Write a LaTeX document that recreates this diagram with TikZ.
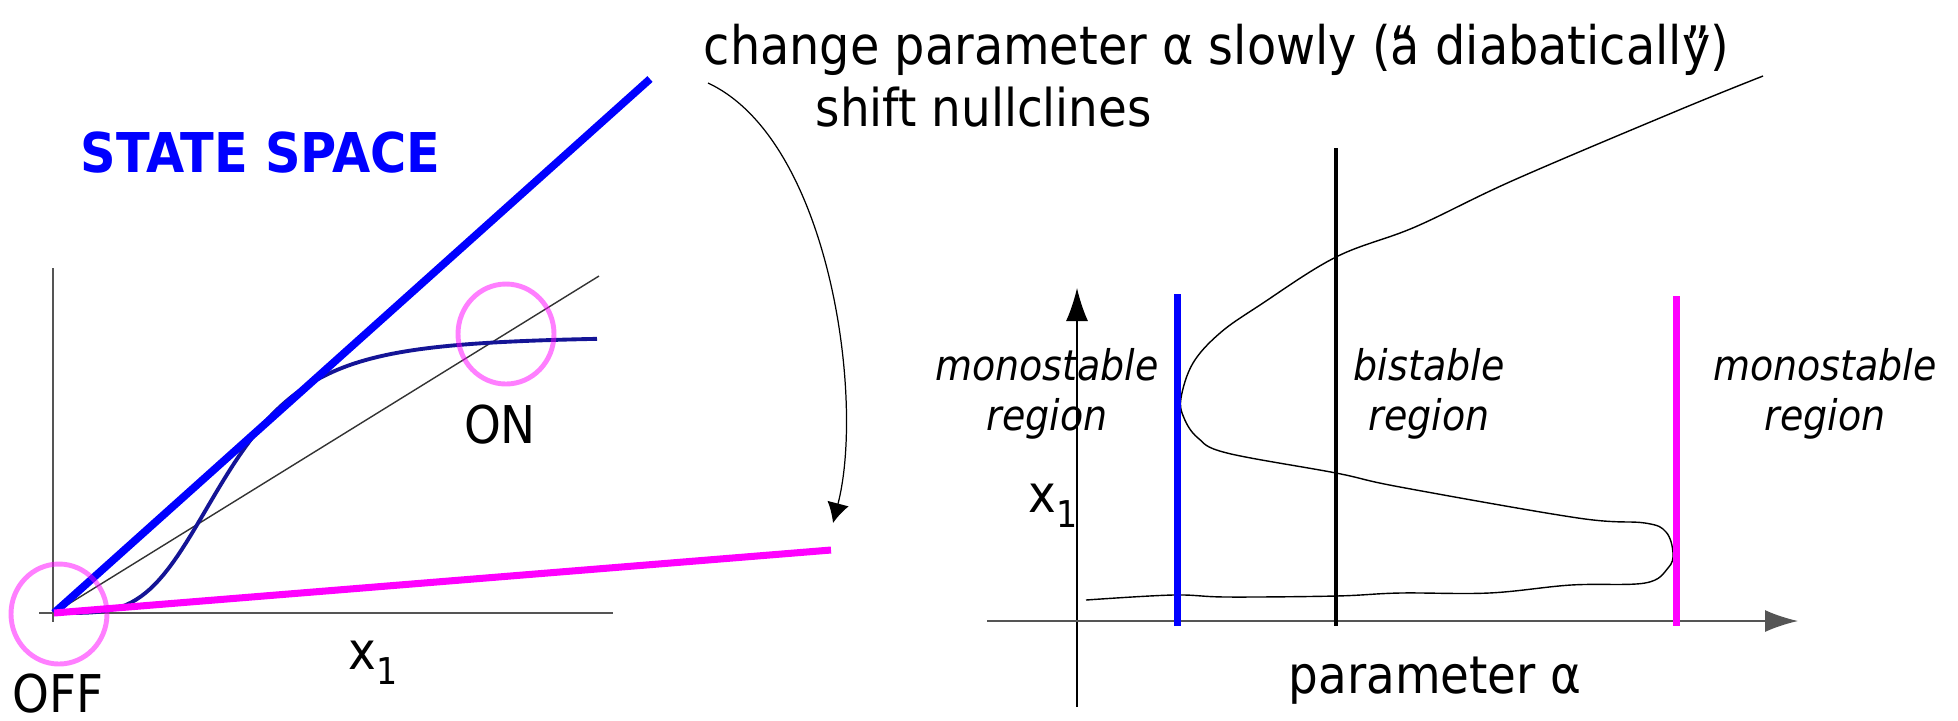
\documentclass[tikz,border=0pt]{standalone}
\usepackage{fontspec}
\setmainfont{DejaVu Sans}[FakeStretch=0.9]
\usetikzlibrary{arrows.meta}
\definecolor{nullblue}{RGB}{0, 0, 255}
\definecolor{nullmagenta}{RGB}{255, 0, 255}
\definecolor{sigmoidnavy}{RGB}{20, 20, 150}
\definecolor{axisgray}{RGB}{85, 85, 85}
\tikzset{
  >=Latex,
  axisline/.style={line width=0.6pt, axisgray},
  thinaxis/.style={line width=0.35pt, black},
  nullline_blue/.style={line width=2.2pt, nullblue},
  nullline_magenta/.style={line width=2pt, nullmagenta},
  fixpoint/.style={line width=1.4pt, draw=nullmagenta, draw opacity=0.5},
  biglabel/.style={font=\fontsize{14.8}{17}\selectfont, inner sep=0pt},
  regionlabel/.style={font=\fontsize{12}{14.2}\selectfont\itshape, align=center, inner sep=0pt},
  bendarrow/.style={-{Latex[length=2mm, width=2.2mm]}, line width=0.35pt},
  axisarrow/.style={-{Latex[length=3.3mm, width=2.2mm]}}
}
\newcommand{\xsub}{x\raisebox{-0.3em}{\fontsize{10.5}{12}\selectfont 1}}

\begin{document}
\begin{tikzpicture}[x=0.01cm, y=-0.01cm]
    \useasboundingbox (0,0) rectangle (1958,720);
    % state space (left)
    \coordinate (origin) at (54,613);
    \draw[axisline] (53,268) -- (53,622);
    \draw[axisline] (39,613) -- (613,613);
    \draw[line width=0.4pt, black!80] (origin) -- (599,276);
    \draw[line width=1.1pt, sigmoidnavy] plot[domain=0:543, samples=120]
        ({54+\x}, {336+277/(1+(\x/173)^4)});
    \draw[nullline_blue] (origin) -- (650,79);
    \draw[nullline_magenta] (origin) -- (831,550);
    \draw[fixpoint] (59,614) ellipse [x radius=48, y radius=50];
    \draw[fixpoint] (506,334) ellipse [x radius=48, y radius=50];
    \node[biglabel, anchor=base west, text=nullblue, font=\bfseries\fontsize{15.6}{18}\selectfont] (statespace) at (80,172) {STATE SPACE};
    \node[biglabel, anchor=base] (onlbl) at (500,443) {ON};
    \node[biglabel, anchor=base west] (offlbl) at (12,712) {OFF};
    \node[biglabel, anchor=base west] (xleft) at (348,669) {\xsub};

    % text and bent arrow
    \node[biglabel, anchor=base west, font=\fontsize{15.1}{17}\selectfont] (change) at (703,64) {change parameter α slowly (\rlap{“}a diabatically\llap{”})};
    \node[biglabel, anchor=base west] (shift) at (815,126) {shift nullclines};
    \coordinate (arcstart) at (708,83);
    \coordinate (arcend) at (833,523);
    \draw[bendarrow] (arcstart) .. controls (830,140) and (865,400) .. (arcend);

    % bifurcation diagram (right)
    \draw[thinaxis, axisarrow] (1077,707) -- (1077,288);
    \draw[axisline, line width=0.5pt, axisarrow] (987,621) -- (1798,621);
    \draw[line width=0.4pt] plot[smooth, tension=0.6] coordinates {
        (1086,600) (1173,595) (1227,597) (1336,596) (1400,593) (1489,593)
        (1571,585) (1645,583) (1668,568) (1673,553) (1666,532) (1645,523)
        (1578,518) (1400,487) (1336,473) (1227,453) (1198,438) (1184,418)
        (1181,398) (1193,363) (1220,333) (1260,305) (1336,257) (1415,227)
        (1514,180) (1679,110) (1763,76)};
    \draw[nullline_blue, line width=2pt] (1177,294) -- (1177,626);
    \draw[line width=0.9pt] (1336,148) -- (1336,626);
    \draw[nullline_magenta] (1676,296) -- (1676,626);
    \node[regionlabel] (monoleft) at (1047,394) {monostable\\region};
    \node[regionlabel] (bistable) at (1429,394) {bistable\\region};
    \node[regionlabel] (monoright) at (1825,394) {monostable\\region};
    \node[biglabel, anchor=base west] (xright) at (1028,512) {\xsub};
    \node[biglabel, anchor=base west] (alphalbl) at (1288,693) {parameter α};
\end{tikzpicture}
\end{document}
